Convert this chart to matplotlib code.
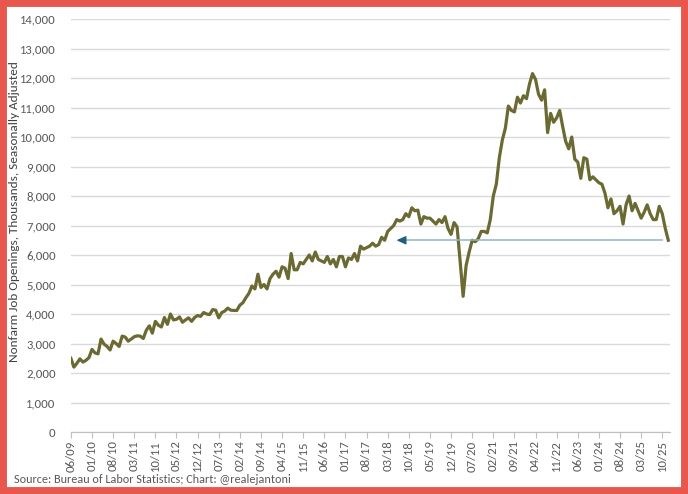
import numpy as np
import matplotlib.pyplot as plt
from matplotlib import font_manager
from matplotlib.patches import Rectangle

# Job openings, thousands, monthly 06/2009 - 12/2025
y2009 = [2500, 2200, 2330, 2480, 2370, 2430, 2520]  # Jun-Dec
y2010 = [2800, 2680, 2650, 3150, 2980, 2900, 2780, 3080, 3000, 2900, 3250, 3220]
y2011 = [3080, 3150, 3230, 3260, 3250, 3170, 3450, 3600, 3350, 3750, 3620, 3560]
y2012 = [3880, 3650, 4000, 3800, 3820, 3900, 3720, 3800, 3870, 3750, 3880, 3950]
y2013 = [3920, 4050, 4000, 3980, 4150, 4130, 3870, 4050, 4100, 4200, 4130, 4120]
y2014 = [4120, 4300, 4380, 4550, 4700, 4950, 4850, 5350, 4900, 5000, 4850, 5200]
y2015 = [5350, 5450, 5250, 5600, 5550, 5200, 6050, 5500, 5500, 5750, 5700, 5850]
y2016 = [6000, 5800, 6100, 5850, 5800, 5750, 5950, 5700, 5850, 5600, 5950, 5950]
y2017 = [5600, 5900, 5850, 6050, 5800, 6300, 6200, 6250, 6300, 6400, 6300, 6350]
y2018 = [6600, 6500, 6800, 6900, 7000, 7200, 7150, 7200, 7400, 7300, 7600, 7500]
y2019 = [7520, 7050, 7300, 7250, 7250, 7150, 7050, 7200, 7100, 7300, 6900, 6700]
y2020 = [7100, 6950, 5800, 4600, 5650, 6100, 6500, 6450, 6550, 6800, 6800, 6750]
y2021 = [7200, 8000, 8400, 9300, 9900, 10300, 11050, 10900, 10850, 11350, 11150, 11400]
y2022 = [11300, 11800, 12150, 11950, 11450, 11250, 11600, 10150, 10800, 10500, 10650, 10900]
y2023 = [10350, 9850, 9600, 10000, 9250, 9150, 8600, 9300, 9250, 8550, 8650, 8550]
y2024 = [8450, 8400, 8100, 7600, 7900, 7400, 7500, 7650, 7050, 7700, 8000, 7500]
y2025 = [7750, 7500, 7250, 7450, 7700, 7400, 7200, 7200, 7650, 7400, 6900, 6500]

openings = (y2009 + y2010 + y2011 + y2012 + y2013 + y2014 + y2015 + y2016 + y2017
            + y2018 + y2019 + y2020 + y2021 + y2022 + y2023 + y2024 + y2025)

tick_labels = ["06/09", "01/10", "08/10", "03/11", "10/11", "05/12", "12/12", "07/13",
               "02/14", "09/14", "04/15", "11/15", "06/16", "01/17", "08/17", "03/18",
               "10/18", "05/19", "12/19", "07/20", "02/21", "09/21", "04/22", "11/22",
               "06/23", "01/24", "08/24", "03/25", "10/25"]

arrow_from = 196  # month index where arrow starts (near latest value)
arrow_to = 107    # month index of arrow head

# Calibri-like font if available
names = {f.name for f in font_manager.fontManager.ttflist}
font = "Carlito" if "Carlito" in names else "Liberation Sans Narrow"
if font not in names:
    font = "Liberation Sans"
plt.rcParams["font.family"] = [font, "DejaVu Sans"]

x = np.arange(len(openings))
last = openings[-1]

fig = plt.figure(figsize=(6.88, 4.94), dpi=100)
fig.patches.append(Rectangle((0, 0), 1, 1, transform=fig.transFigure,
                             fill=False, edgecolor="#e8574e", linewidth=10, zorder=10))
ax = fig.add_axes([0.103, 0.1255, 0.871, 0.836])

ax.plot(x, openings, color="#6b6a33", linewidth=2.3, solid_joinstyle="round", zorder=3)

# arrow: light shaft + darker head
ax.plot([arrow_to + 2, arrow_from], [last, last], color="#8fb4cc", linewidth=1.1, zorder=4)
ax.annotate("", xy=(arrow_to, last), xytext=(arrow_to + 3, last),
            arrowprops=dict(arrowstyle="-|>,head_length=0.55,head_width=0.25",
                            color="#1f5f85", lw=1.0), zorder=5)

ax.set_ylim(0, 14000)
ax.set_xlim(0, 198.6)
ax.set_yticks(np.arange(0, 14001, 1000))
ax.set_yticklabels([f"{v:,}" for v in range(0, 14001, 1000)])
ax.set_xticks(np.arange(0, 7 * len(tick_labels), 7))
ax.set_xticklabels(tick_labels, rotation=90)

ax.grid(axis="y", color="#d9d9d9", linewidth=1)
ax.set_axisbelow(True)
for s in ["top", "right", "left"]:
    ax.spines[s].set_visible(False)
ax.spines["bottom"].set_color("#bfbfbf")
ax.tick_params(axis="y", length=0, labelcolor="#595959", pad=11)
ax.tick_params(axis="x", length=4, color="#bfbfbf", labelcolor="#595959", pad=2)

ylab = ax.set_ylabel("Nonfarm Job Openings, Thousands, Seasonally Adjusted",
                     fontsize=9, color="#404040")
ax.yaxis.set_label_coords(-0.085, 0.533)

src = fig.text(0.02, 0.022, "Source: Bureau of Labor Statistics; Chart: @realejantoni",
               fontsize=9, color="#595959")

# fit text sizes to the pixel sizes seen in the reference
fig.canvas.draw()
r = fig.canvas.get_renderer()
probe = fig.text(0, 0, "14,000", fontsize=10)
w = probe.get_window_extent(r).width
probe.remove()
tick_size = 10 * 36 / w
ax.tick_params(axis="both", labelsize=tick_size)
src.set_fontsize(9 * 277 / src.get_window_extent(r).width)
ylab.set_fontsize(9 * 303 / ylab.get_window_extent(r).height)

plt.savefig("out.png", dpi=100)
